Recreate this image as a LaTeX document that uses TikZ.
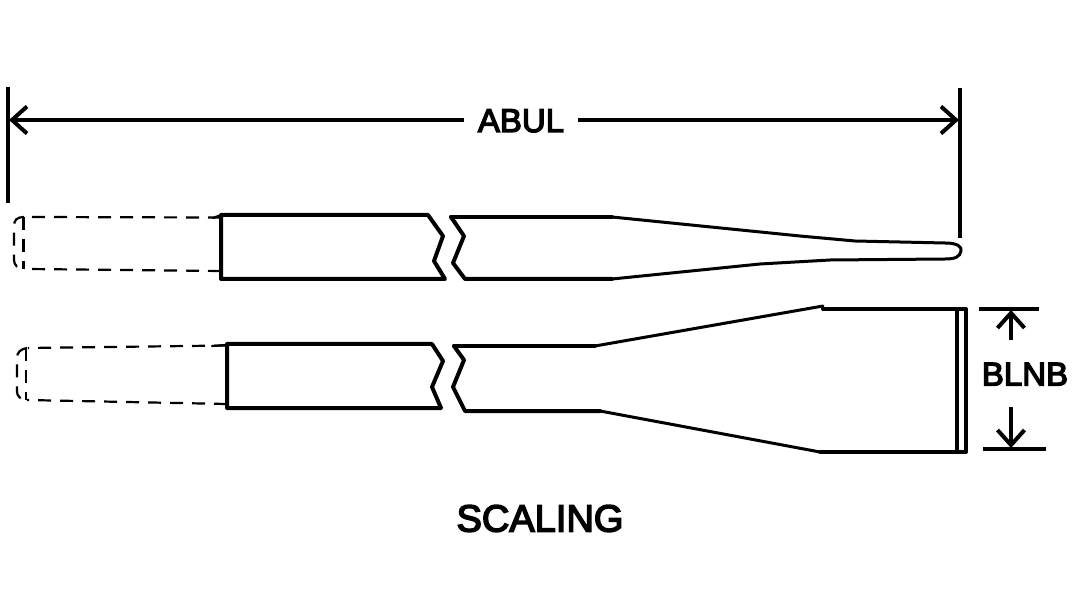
\documentclass[tikz,border=0pt]{standalone}
\usepackage{fontspec}
\setmainfont{Liberation Sans}
\newfontfamily\heavyfont[FakeBold=4]{Liberation Sans}
\usetikzlibrary{arrows.meta}
\tikzset{
  part/.style={line width=4pt,line join=round,line cap=round},
  taper/.style={line width=3pt,line join=round,line cap=round},
  hidden/.style={line width=2.2pt,dash pattern=on 13pt off 9pt},
  hiddensolid/.style={line width=2.2pt,line cap=round},
  dimline/.style={line width=3.8pt},
  dimarrow/.style={line width=3.8pt,-{Straight Barb[length=15pt,width=27pt,line width=4pt]}},
  lbl/.style={font=\heavyfont\fontsize{33}{33}\selectfont,inner sep=0pt,text height=24pt,text depth=0pt},
  title/.style={font=\heavyfont\fontsize{38}{38}\selectfont,inner sep=0pt},
}
\begin{document}
\begin{tikzpicture}[x=1pt,y=-1pt]
\useasboundingbox (0,0) rectangle (1072,596);
% extension lines
\draw[dimline] (8,87) -- (8,203);
\draw[dimline] (960,88) -- (960,238);
\draw[dimline] (979,309) -- (1039,309);
\draw[dimline] (983,449) -- (1046,449);
% dimension ABUL
\coordinate (abulL) at (9,120);
\coordinate (abulR) at (959,120);
\node[lbl,inner xsep=14pt,minimum height=24pt] (abul) at (521,120) {ABUL};
\draw[dimarrow] (abul.west) -- (abulL);
\draw[dimarrow] (abul.east) -- (abulR);
% dimension BLNB
\coordinate (blnbT) at (1011,310);
\coordinate (blnbB) at (1011,448);
\node[lbl,minimum height=66pt] (blnb) at (1025,373.5) {BLNB};
\draw[dimarrow] (blnbT |- blnb.north) -- (blnbT);
\draw[dimarrow] (blnbB |- blnb.south) -- (blnbB);
% upper part
\draw[part] (428,215) -- (221,215) -- (221,279) -- (445,279) -- (434,261) -- (443,236) -- cycle;
\draw[part] (451,217) -- (464,236) -- (453,263) -- (465,279) -- (612,279);
\draw[part] (451,217) -- (612,217);
\draw[taper] (612,217) -- (800,236) -- (855,241) -- (945,243)
  .. controls (958,243) and (962,247) .. (961,251)
  .. controls (960,257) and (955,259) .. (945,259)
  -- (830,260) -- (760,264) -- (612,279);
% upper hidden end
\draw[hidden] (221,217.5) -- (28,217) ;
\draw[hidden] (221,271) -- (28,269);
\draw[hiddensolid] (213,218) -- (221,215);
\draw[hidden] (24,217) .. controls (17,217) and (14,220) .. (14,226) -- (14,260) .. controls (14,265) and (18,269) .. (24,269);
\draw[hidden] (23.5,217) -- (23.5,269);
% lower part
\draw[part] (432,344) -- (227,344) -- (227,408) -- (441,408) -- (432,387) -- (443,361) -- cycle;
\draw[part] (454,346) -- (464,360) -- (453,387) -- (465,411) -- (600,411);
\draw[part] (454,346) -- (595,346);
\draw[taper] (595,346) -- (823,306);
\draw[taper] (600,411) -- (820,452);
\draw[part] (823,309) -- (966,309) -- (966,452) -- (820,452);
\draw[part] (957,309) -- (957,452);
% lower hidden end
\draw[hidden] (227,345.5) -- (28,348);
\draw[hidden] (227,404) -- (27,400);
\draw[hiddensolid] (212,346) -- (227,345);
\draw[hidden] (27,348) .. controls (21,349) and (17,352) .. (17,358) -- (17,392) .. controls (17,396) and (21,400) .. (27,400);
\draw[hidden] (26,348) -- (26,400);
% title
\node[title] (scaling) at (540,518.5) {SCALING};
\end{tikzpicture}
\end{document}
